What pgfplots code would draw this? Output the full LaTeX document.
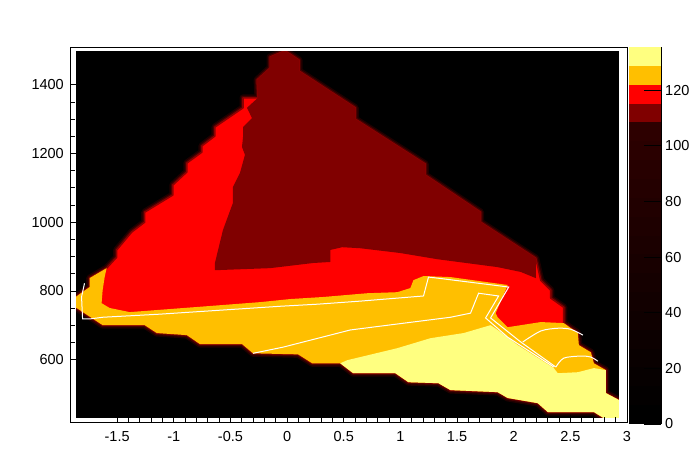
\documentclass[border=0pt]{standalone}
\usepackage{fontspec}
\setmainfont{Liberation Sans}
\usepackage{pgfplots}
\pgfplotsset{compat=1.18}
\definecolor{cyel}{RGB}{255,255,128}
\definecolor{cora}{RGB}{255,191,0}
\definecolor{cred}{RGB}{255,0,0}
\definecolor{cdred}{RGB}{128,0,0}
\definecolor{hA}{RGB}{30,0,0}
\definecolor{hB}{RGB}{70,0,0}
\definecolor{hC}{RGB}{140,0,0}
\definecolor{k0}{RGB}{0,0,0}
\definecolor{k1}{RGB}{3,0,0}
\definecolor{k2}{RGB}{6,0,0}
\definecolor{k3}{RGB}{9,0,0}
\definecolor{k4}{RGB}{12,0,0}
\definecolor{k5}{RGB}{15,0,0}
\definecolor{k6}{RGB}{18,0,0}
\definecolor{k7}{RGB}{21,0,0}
\definecolor{k8}{RGB}{24,0,0}
\definecolor{k9}{RGB}{27,0,0}
\definecolor{k10}{RGB}{30,0,0}
\definecolor{k11}{RGB}{33,0,0}
\definecolor{k12}{RGB}{36,0,0}
\definecolor{k13}{RGB}{39,0,0}
\definecolor{k14}{RGB}{42,0,0}
\definecolor{k15}{RGB}{45,0,0}
\begin{document}
\begin{tikzpicture}[x=1pt,y=1pt]
\useasboundingbox (0,0) rectangle (696,472);
\begin{axis}[
  at={(70pt,50pt)}, anchor=south west,
  scale only axis, width=557pt, height=375pt,
  xmin=-1.916, xmax=3, ymin=418, ymax=1510,
  axis on top,
  tick align=inside, xtick pos=bottom, ytick pos=left,
  xtick={-1.5,-1,-0.5,0,0.5,1,1.5,2,2.5,3},
  xticklabels={-1.5,-1,-0.5,0,0.5,1,1.5,2,2.5,3},
  ytick={600,800,1000,1200,1400},
  yticklabels={600,800,1000,1200,1400},
  minor x tick num=4, minor y tick num=3,
  major tick length=7pt, minor tick length=5pt,
  tick style={black, line width=0.6pt},
  axis line style={line width=0.8pt},
  tick label style={font=\fontsize{14.5}{16}\selectfont},
  xticklabel style={inner sep=0pt, anchor=north, yshift=-9pt},
  yticklabel style={inner sep=0pt, anchor=east, xshift=-6pt},
]
% background
\addplot[fill=black, draw=none] coordinates {(-1.862,429) (2.93,429) (2.93,1499) (-1.862,1499)} --cycle;
% halo + red outer region
\addplot[draw=hA, line width=7pt, line join=round, fill=none] coordinates {(-0.018,1499) (0.106,1472) (0.106,1440) (0.602,1333) (0.602,1300) (1.221,1169) (1.221,1137) (1.708,1029) (1.708,1000) (2.195,895) (2.239,831) (2.327,802) (2.327,779) (2.442,752) (2.442,706) (2.566,677) (2.575,642) (2.681,621) (2.708,589) (2.814,569) (2.814,502) (2.929,482) (2.929,429) (2.796,429) (2.708,447) (2.301,447) (2.212,473) (1.947,488) (1.858,505) (1.442,511) (1.336,531) (1.071,534) (0.956,560) (0.584,560) (0.469,589) (0.221,589) (0.097,615) (-0.301,618) (-0.398,645) (-0.770,645) (-0.885,671) (-1.150,677) (-1.257,700) (-1.628,700) (-1.867,752) (-1.867,782) (-1.743,811) (-1.743,837) (-1.593,866) (-1.504,898) (-1.504,919) (-1.372,971) (-1.257,1000) (-1.257,1029) (-1.009,1079) (-1.009,1108) (-0.885,1146) (-0.885,1172) (-0.752,1204) (-0.752,1222) (-0.637,1251) (-0.637,1277) (-0.389,1333) (-0.389,1362) (-0.257,1362) (-0.265,1414) (-0.150,1449) (-0.150,1481)} --cycle;
\addplot[draw=hB, line width=4pt, line join=round, fill=none] coordinates {(-0.018,1499) (0.106,1472) (0.106,1440) (0.602,1333) (0.602,1300) (1.221,1169) (1.221,1137) (1.708,1029) (1.708,1000) (2.195,895) (2.239,831) (2.327,802) (2.327,779) (2.442,752) (2.442,706) (2.566,677) (2.575,642) (2.681,621) (2.708,589) (2.814,569) (2.814,502) (2.929,482) (2.929,429) (2.796,429) (2.708,447) (2.301,447) (2.212,473) (1.947,488) (1.858,505) (1.442,511) (1.336,531) (1.071,534) (0.956,560) (0.584,560) (0.469,589) (0.221,589) (0.097,615) (-0.301,618) (-0.398,645) (-0.770,645) (-0.885,671) (-1.150,677) (-1.257,700) (-1.628,700) (-1.867,752) (-1.867,782) (-1.743,811) (-1.743,837) (-1.593,866) (-1.504,898) (-1.504,919) (-1.372,971) (-1.257,1000) (-1.257,1029) (-1.009,1079) (-1.009,1108) (-0.885,1146) (-0.885,1172) (-0.752,1204) (-0.752,1222) (-0.637,1251) (-0.637,1277) (-0.389,1333) (-0.389,1362) (-0.257,1362) (-0.265,1414) (-0.150,1449) (-0.150,1481)} --cycle;
\addplot[draw=hC, line width=1.6pt, line join=round, fill=cred] coordinates {(-0.018,1499) (0.106,1472) (0.106,1440) (0.602,1333) (0.602,1300) (1.221,1169) (1.221,1137) (1.708,1029) (1.708,1000) (2.195,895) (2.239,831) (2.327,802) (2.327,779) (2.442,752) (2.442,706) (2.566,677) (2.575,642) (2.681,621) (2.708,589) (2.814,569) (2.814,502) (2.929,482) (2.929,429) (2.796,429) (2.708,447) (2.301,447) (2.212,473) (1.947,488) (1.858,505) (1.442,511) (1.336,531) (1.071,534) (0.956,560) (0.584,560) (0.469,589) (0.221,589) (0.097,615) (-0.301,618) (-0.398,645) (-0.770,645) (-0.885,671) (-1.150,677) (-1.257,700) (-1.628,700) (-1.867,752) (-1.867,782) (-1.743,811) (-1.743,837) (-1.593,866) (-1.504,898) (-1.504,919) (-1.372,971) (-1.257,1000) (-1.257,1029) (-1.009,1079) (-1.009,1108) (-0.885,1146) (-0.885,1172) (-0.752,1204) (-0.752,1222) (-0.637,1251) (-0.637,1277) (-0.389,1333) (-0.389,1362) (-0.257,1362) (-0.265,1414) (-0.150,1449) (-0.150,1481)} --cycle;
% dark red
\addplot[fill=cdred, draw=none] coordinates {(-0.257,1362) (-0.265,1414) (-0.150,1449) (-0.150,1481) (-0.018,1499) (0.106,1472) (0.106,1440) (0.602,1333) (0.602,1300) (1.221,1169) (1.221,1137) (1.708,1029) (1.708,1000) (2.195,895) (2.195,837) (2.062,855) (1.858,869) (1.327,892) (1.000,910) (0.646,924) (0.487,927) (0.381,919) (0.381,884) (0.230,881) (-0.150,866) (-0.398,863) (-0.637,860) (-0.637,881) (-0.566,977) (-0.478,1056) (-0.478,1102) (-0.416,1143) (-0.372,1196) (-0.398,1219) (-0.389,1248) (-0.389,1277) (-0.310,1303) (-0.354,1333)} --cycle;
% orange
\addplot[fill=cora, draw=none] coordinates {(-1.867,782) (-1.743,811) (-1.743,837) (-1.593,866) (-1.610,840) (-1.628,802) (-1.637,764) (-1.566,750) (-1.389,738) (-0.832,752) (-0.239,767) (0.027,776) (0.319,782) (0.708,793) (0.973,796) (1.088,808) (1.115,831) (1.204,843) (1.442,840) (1.947,817) (1.841,735) (1.858,723) (1.947,694) (2.239,709) (2.442,706) (2.566,677) (2.575,642) (2.681,621) (2.708,589) (2.814,569) (2.814,502) (2.929,482) (2.929,429) (2.796,429) (2.708,447) (2.301,447) (2.212,473) (1.947,488) (1.858,505) (1.442,511) (1.336,531) (1.071,534) (0.956,560) (0.584,560) (0.469,589) (0.221,589) (0.097,615) (-0.301,618) (-0.398,645) (-0.770,645) (-0.885,671) (-1.150,677) (-1.257,700) (-1.628,700) (-1.867,752)} --cycle;
% yellow
\addplot[fill=cyel, draw=none] coordinates {(0.469,589) (0.531,598) (0.973,633) (1.265,662) (1.558,677) (1.796,700) (1.858,686) (2.035,642) (2.354,575) (2.389,560) (2.566,563) (2.708,575) (2.814,569) (2.814,502) (2.929,482) (2.929,429) (2.796,429) (2.708,447) (2.301,447) (2.212,473) (1.947,488) (1.858,505) (1.442,511) (1.336,531) (1.071,534) (0.956,560) (0.584,560)} --cycle;
% white contour lines
\addplot[white, line width=1pt] coordinates {(-1.788,822) (-1.814,782) (-1.805,718) (-1.743,718) (-1.628,723) (-1.124,732) (-0.062,755) (0.265,761) (0.646,770) (1.204,785) (1.248,840) (1.327,837) (1.956,811) (1.796,721) (2.062,651) (2.372,578)};
\addplot[white, line width=1pt] coordinates {(-0.301,618) (-0.035,636) (0.558,686) (1.442,723) (1.619,735) (1.690,793) (1.867,785) (1.752,721) (1.947,665) (2.354,578)};
\addplot[white, line width=1pt, smooth] coordinates {(2.080,651) (2.239,683) (2.389,691) (2.504,688) (2.611,671)};
\addplot[white, line width=1pt, smooth] coordinates {(2.372,578) (2.442,604) (2.593,610) (2.681,607) (2.743,595)};
% white margins between frame and histogram area
\fill[white] (axis cs:-1.916,418) rectangle (axis cs:-1.862,1510);
\fill[white] (axis cs:2.93,418) rectangle (axis cs:3,1510);
\fill[white] (axis cs:-1.916,418) rectangle (axis cs:3,429);
\fill[white] (axis cs:-1.916,1499) rectangle (axis cs:3,1510);
\end{axis}
% colour scale
\begin{axis}[
  at={(629pt,48pt)}, anchor=south west,
  scale only axis, width=32pt, height=377pt,
  xmin=0, xmax=1, ymin=0, ymax=135.5,
  axis x line=none, axis y line*=right,
  axis on top,
  tick align=inside,
  ytick={0,20,40,60,80,100,120},
  yticklabels={0,20,40,60,80,100,120},
  major tick length=17pt,
  tick style={black, line width=0.6pt},
  axis line style={line width=0.8pt},
  tick label style={font=\fontsize{14.5}{16}\selectfont},
  yticklabel style={inner sep=0pt, anchor=west, xshift=4pt},
]
\addplot[fill=k0, draw=none] coordinates {(0,0) (1,0) (1,6.775) (0,6.775)} --cycle;
\addplot[fill=k1, draw=none] coordinates {(0,6.775) (1,6.775) (1,13.55) (0,13.55)} --cycle;
\addplot[fill=k2, draw=none] coordinates {(0,13.55) (1,13.55) (1,20.325) (0,20.325)} --cycle;
\addplot[fill=k3, draw=none] coordinates {(0,20.325) (1,20.325) (1,27.1) (0,27.1)} --cycle;
\addplot[fill=k4, draw=none] coordinates {(0,27.1) (1,27.1) (1,33.875) (0,33.875)} --cycle;
\addplot[fill=k5, draw=none] coordinates {(0,33.875) (1,33.875) (1,40.65) (0,40.65)} --cycle;
\addplot[fill=k6, draw=none] coordinates {(0,40.65) (1,40.65) (1,47.425) (0,47.425)} --cycle;
\addplot[fill=k7, draw=none] coordinates {(0,47.425) (1,47.425) (1,54.2) (0,54.2)} --cycle;
\addplot[fill=k8, draw=none] coordinates {(0,54.2) (1,54.2) (1,60.975) (0,60.975)} --cycle;
\addplot[fill=k9, draw=none] coordinates {(0,60.975) (1,60.975) (1,67.75) (0,67.75)} --cycle;
\addplot[fill=k10, draw=none] coordinates {(0,67.75) (1,67.75) (1,74.525) (0,74.525)} --cycle;
\addplot[fill=k11, draw=none] coordinates {(0,74.525) (1,74.525) (1,81.3) (0,81.3)} --cycle;
\addplot[fill=k12, draw=none] coordinates {(0,81.3) (1,81.3) (1,88.075) (0,88.075)} --cycle;
\addplot[fill=k13, draw=none] coordinates {(0,88.075) (1,88.075) (1,94.85) (0,94.85)} --cycle;
\addplot[fill=k14, draw=none] coordinates {(0,94.85) (1,94.85) (1,101.625) (0,101.625)} --cycle;
\addplot[fill=k15, draw=none] coordinates {(0,101.625) (1,101.625) (1,108.4) (0,108.4)} --cycle;
\addplot[fill=cdred, draw=none] coordinates {(0,108.4) (1,108.4) (1,115.175) (0,115.175)} --cycle;
\addplot[fill=cred, draw=none] coordinates {(0,115.175) (1,115.175) (1,121.95) (0,121.95)} --cycle;
\addplot[fill=cora, draw=none] coordinates {(0,121.95) (1,121.95) (1,128.725) (0,128.725)} --cycle;
\addplot[fill=cyel, draw=none] coordinates {(0,128.725) (1,128.725) (1,135.5) (0,135.5)} --cycle;
\end{axis}
\end{tikzpicture}
\end{document}
